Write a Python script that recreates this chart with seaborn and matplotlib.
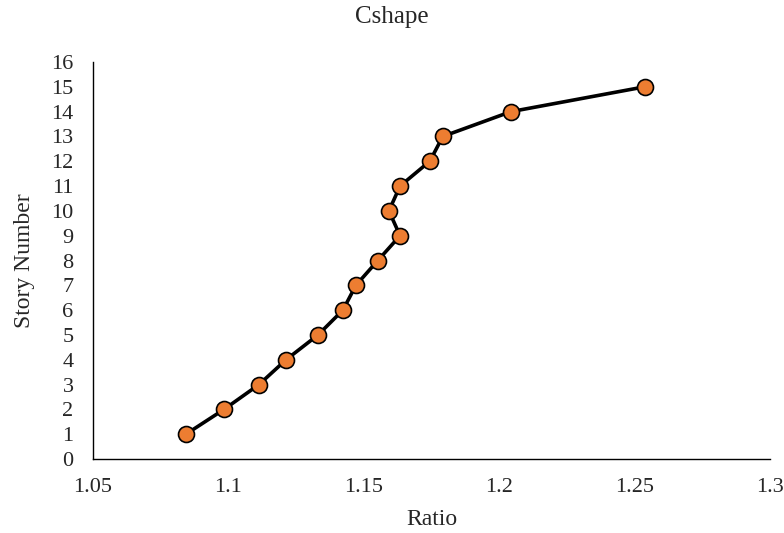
import matplotlib
matplotlib.use("Agg")
import matplotlib.pyplot as plt
import seaborn as sns
import pandas as pd

ratio = [1.0843, 1.0984, 1.1113, 1.1213, 1.1331, 1.1423, 1.1471, 1.1552, 1.1634,
         1.1593, 1.1634, 1.1744, 1.1792, 1.2044, 1.2538]
story = [1, 2, 3, 4, 5, 6, 7, 8, 9, 10, 11, 12, 13, 14, 15]
x_ticks = [1.05, 1.1, 1.15, 1.2, 1.25, 1.3]
x_tick_labels = ["1.05", "1.1", "1.15", "1.2", "1.25", "1.3"]
y_ticks = list(range(0, 17))

df = pd.DataFrame({"Ratio": ratio, "Story": story})

sns.set_style("white")
plt.rcParams["font.family"] = ["Liberation Serif", "DejaVu Serif"]

fig = plt.figure(figsize=(7.84, 5.33), dpi=100)
ax = fig.add_axes([0.1186, 0.1388, 0.8634, 0.7449])

sns.lineplot(data=df, x="Ratio", y="Story", sort=False, estimator=None, ax=ax,
             color="black", linewidth=2.6, marker="o", markersize=11.5,
             markerfacecolor="#ED7D31", markeredgecolor="black", markeredgewidth=1.2)

ax.set_xlim(1.05, 1.3)
ax.set_ylim(0, 16)
ax.set_xticks(x_ticks)
ax.set_xticklabels(x_tick_labels)
ax.set_yticks(y_ticks)
ax.tick_params(axis="both", labelsize=16, length=0)
ax.tick_params(axis="x", pad=13.5)
ax.tick_params(axis="y", pad=14)
for s in ["top", "right"]:
    ax.spines[s].set_visible(False)
for s in ["left", "bottom"]:
    ax.spines[s].set_color("black")
    ax.spines[s].set_linewidth(1.0)
ax.set_xlabel("Ratio", fontsize=17, labelpad=9)
ax.set_ylabel("Story Number", fontsize=17, labelpad=12)
fig.text(0.5, 0.968, "Cshape", ha="center", va="center", fontsize=18)

fig.savefig("out.png", dpi=100)
